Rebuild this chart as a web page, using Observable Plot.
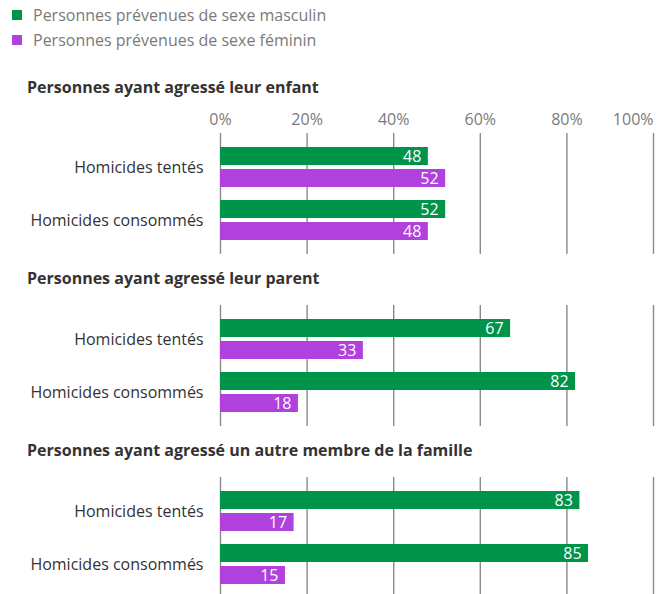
<!DOCTYPE html>
<html>
<head>
<meta charset="utf-8">
<script src="https://cdn.jsdelivr.net/npm/d3@7"></script>
<script src="https://cdn.jsdelivr.net/npm/@observablehq/plot@0.6"></script>
<style>
  html, body { margin: 0; padding: 0; background: #fff; }
  #root { position: relative; width: 661px; height: 594px; overflow: hidden; font-family: "Open Sans", sans-serif; }
  .leg { position: absolute; left: 12px; font-size: 16px; color: #7a7a7a; line-height: 20px; white-space: nowrap; }
  .leg .sw { position: absolute; left: 0; top: 5px; width: 10px; height: 10px; }
  .leg span.t { position: absolute; left: 21px; top: 0; }
  .title { position: absolute; left: 27px; font-size: 16px; font-weight: 700; color: #333; line-height: 20px; white-space: nowrap; }
  .panel { position: absolute; left: 0; }
  .panel svg { overflow: visible; }
</style>
</head>
<body>
<div id="root"></div>
<script>
const categories = ["Homicides tentés", "Homicides consommés"];
const panelTitles = [
  "Personnes ayant agressé leur enfant",
  "Personnes ayant agressé leur parent",
  "Personnes ayant agressé un autre membre de la famille"
];
const series = ["Personnes prévenues de sexe masculin", "Personnes prévenues de sexe féminin"];
const maleValues = [[48, 52], [67, 82], [83, 85]];
const femaleValues = [[52, 48], [33, 18], [17, 15]];
const xTicks = [0, 20, 40, 60, 80, 100];
const colors = ["#00934a", "#b041dd"];

const root = document.getElementById("root");

// legend
series.forEach((s, i) => {
  const d = document.createElement("div");
  d.className = "leg";
  d.style.top = (5 + i * 25) + "px";
  d.style.width = "400px";
  d.style.height = "20px";
  d.innerHTML = `<div class="sw" style="background:${colors[i]}"></div><span class="t"></span>`;
  d.querySelector(".t").textContent = s;
  root.appendChild(d);
});

const titleTops = [77, 268, 440];
const svgTops = [103, 301, 473];

function panel(i) {
  const showAxis = i === 0;
  const rows = [];
  categories.forEach((c, j) => {
    rows.push({cat: c, sex: series[0], value: maleValues[i][j]});
    rows.push({cat: c, sex: series[1], value: femaleValues[i][j]});
  });
  const male = rows.filter(d => d.sex === series[0]);
  const female = rows.filter(d => d.sex === series[1]);
  const mt = showAxis ? 30 : 4;
  return Plot.plot({
    width: 661,
    height: mt + 121 + 1,
    marginTop: mt,
    marginBottom: 1,
    marginLeft: 220,
    marginRight: 8,
    style: {fontFamily: "Open Sans", fontSize: "16px", color: "#333", background: "transparent", overflow: "visible"},
    x: {domain: [0, 100], axis: null},
    y: {domain: categories, paddingInner: 13 / 54, paddingOuter: 13 / 54, axis: null},
    color: {domain: series, range: colors},
    marks: [
      Plot.ruleX(xTicks, {x: d => d, stroke: "#8a8a8a", strokeWidth: 1.4}),
      Plot.barX(male, {x: "value", y: "cat", fill: "sex", insetBottom: 22}),
      Plot.barX(female, {x: "value", y: "cat", fill: "sex", insetTop: 22}),
      Plot.text(male, {x: "value", y: "cat", text: d => String(d.value), dy: -10.5, dx: -7, textAnchor: "end", fill: "white", fontSize: 16}),
      Plot.text(female, {x: "value", y: "cat", text: d => String(d.value), dy: 11.5, dx: -7, textAnchor: "end", fill: "white", fontSize: 16}),
      Plot.axisY({tickSize: 0, tickPadding: 17, fontSize: 16, color: "#333", label: null}),
      showAxis ? Plot.text(xTicks.filter(t => t < 100), {x: d => d, frameAnchor: "top", dy: -20, text: d => d + "%", fill: "#7a7a7a", fontSize: 16}) : null,
      showAxis ? Plot.text(xTicks.filter(t => t === 100), {x: d => d, frameAnchor: "top", dy: -20, text: d => d + "%", textAnchor: "end", fill: "#7a7a7a", fontSize: 16}) : null
    ]
  });
}

panelTitles.forEach((t, i) => {
  const tt = document.createElement("div");
  tt.className = "title";
  tt.style.top = titleTops[i] + "px";
  tt.textContent = t;
  root.appendChild(tt);
  const p = document.createElement("div");
  p.className = "panel";
  p.style.top = svgTops[i] + "px";
  p.appendChild(panel(i));
  root.appendChild(p);
});
</script>
</body>
</html>
